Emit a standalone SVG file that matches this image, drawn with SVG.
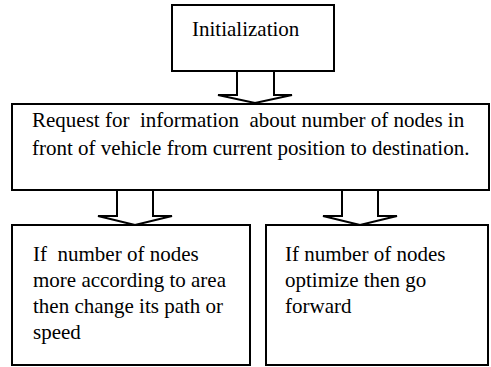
<svg xmlns="http://www.w3.org/2000/svg" width="491" height="367" viewBox="0 0 491 367">
<style>
.box{fill:#fff;stroke:#000;stroke-width:2}
.arr{fill:#fff;stroke:#000;stroke-width:2;stroke-linejoin:miter}
text{font-family:'Liberation Serif','Times New Roman',serif;font-size:21px;fill:#000}
</style>
<rect width="491" height="367" fill="#fff"/>
<g id="connectors">
<polyline class="arr" points="237,72 237,95 218,95 255,103 292,95 274,95 274,72"/>
<polyline class="arr" points="117,191 117,216 98,216 135,225 172,216 153,216 153,191"/>
<polyline class="arr" points="342,191 342,216 323,216 360,225 397,216 378,216 378,191"/>
</g>
<g id="init">
<rect class="box" x="172" y="5" width="162" height="66"/>
<text x="192" y="36">Initialization</text>
</g>
<g id="request">
<rect class="box" x="12" y="104" width="477" height="86"/>
<text x="32" y="127" xml:space="preserve">Request for  information  about number of nodes in</text>
<text x="32" y="155">front of vehicle from current position to destination.</text>
</g>
<g id="change">
<rect class="box" x="12" y="225" width="238" height="140"/>
<text x="33" y="261" xml:space="preserve">If  number of nodes</text>
<text x="33" y="287">more according to area</text>
<text x="33" y="313">then change its path or</text>
<text x="33" y="339">speed</text>
</g>
<g id="forward">
<rect class="box" x="266" y="225" width="222" height="140"/>
<text x="285" y="261">If number of nodes</text>
<text x="285" y="287">optimize then go</text>
<text x="285" y="313">forward</text>
</g>
</svg>
